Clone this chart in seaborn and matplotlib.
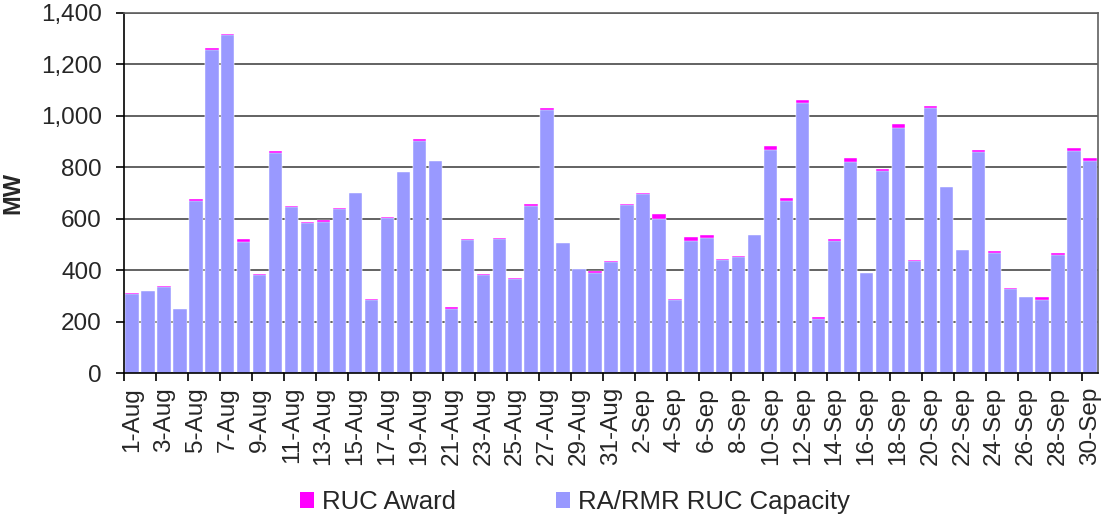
import matplotlib
matplotlib.use("Agg")
import matplotlib.pyplot as plt
import matplotlib.ticker as mticker
from matplotlib.patches import Patch
import pandas as pd
import seaborn as sns

# Daily dates, August 1 through September 30
days = [f"{d}-Aug" for d in range(1, 32)] + [f"{d}-Sep" for d in range(1, 31)]

# RA/RMR RUC capacity (MW)
ra_rmr_capacity = [
    308, 318, 334, 247, 669, 1255, 1313, 510, 380, 856,
    645, 584, 588, 638, 700, 284, 604, 781, 901, 824,
    249, 519, 380, 521, 364, 649, 1021, 504, 403, 388,
    433, 653, 695, 600, 285, 513, 526, 440, 451, 535,
    868, 669, 1048, 209, 513, 821, 390, 786, 951, 434,
    1030, 722, 478, 860, 465, 327, 295, 283, 460, 865,
    825,
]

# RUC award stacked on top (MW)
ruc_award = [
    2, 0, 3, 1, 8, 10, 6, 11, 4, 8,
    4, 5, 8, 4, 1, 5, 1, 1, 8, 2,
    6, 4, 5, 4, 5, 8, 10, 1, 1, 8,
    1, 4, 5, 18, 1, 14, 9, 4, 4, 1,
    14, 13, 12, 9, 9, 15, 0, 9, 18, 6,
    10, 1, 1, 8, 9, 4, 0, 12, 6, 10,
    11,
]

purple = "#9999FF"
magenta = "#FF00FF"

df = pd.DataFrame({
    "day": days,
    "capacity": ra_rmr_capacity,
    "total": [c + a for c, a in zip(ra_rmr_capacity, ruc_award)],
})

sns.set_style("white")
plt.rcParams["font.family"] = ["Liberation Sans", "DejaVu Sans"]

fig = plt.figure(figsize=(11.05, 5.19), dpi=100)
ax = fig.add_axes([0.1122, 0.2813, 0.8815, 0.6937])

# Stacked bars: full height in magenta, capacity portion drawn over it
sns.barplot(data=df, x="day", y="total", color=magenta, saturation=1,
            width=0.84, edgecolor="white", linewidth=0.3, ax=ax)
sns.barplot(data=df, x="day", y="capacity", color=purple, saturation=1,
            width=0.84, edgecolor="white", linewidth=0.3, ax=ax)

n = len(days)
ax.set_xlim(-0.5, n - 0.5)
ax.set_ylim(0, 1400)
ax.yaxis.set_major_locator(mticker.MultipleLocator(200))
ax.yaxis.set_major_formatter(mticker.FuncFormatter(lambda v, p: f"{int(v):,}"))
ax.grid(axis="y", color="#383838", linewidth=1.1)
ax.set_axisbelow(True)

for side in ["top", "right"]:
    ax.spines[side].set_color("#606060")
    ax.spines[side].set_linewidth(1.2)
for side in ["left", "bottom"]:
    ax.spines[side].set_color("black")
    ax.spines[side].set_linewidth(1.2)

# Labels on every other day, tick marks between label pairs
ax.set_xticks(range(0, n, 2))
ax.set_xticklabels(days[::2], rotation=90, fontsize=17.5)
ax.set_xticks([i - 0.5 for i in range(0, n + 1, 2)], minor=True)
ax.tick_params(axis="x", which="major", length=0, pad=10)
ax.tick_params(axis="x", which="minor", length=6, width=1.2, color="black",
               direction="out", bottom=True)
ax.tick_params(axis="y", which="major", length=6, width=1.2, color="black",
               direction="out", left=True, labelsize=17.5, pad=10)

ax.set_xlabel("")
ax.set_ylabel("MW", fontsize=17, fontweight="bold", labelpad=12)

handles = [Patch(facecolor=magenta, edgecolor="none", label="RUC Award"),
           Patch(facecolor=purple, edgecolor="none", label="RA/RMR RUC Capacity")]
fig.legend(handles=handles, loc="lower center", bbox_to_anchor=(0.52, -0.035),
           ncol=2, frameon=False, fontsize=18.5, handlelength=0.55,
           handleheight=0.55, handletextpad=0.3, columnspacing=3.9)

fig.savefig("out.png", dpi=100)
